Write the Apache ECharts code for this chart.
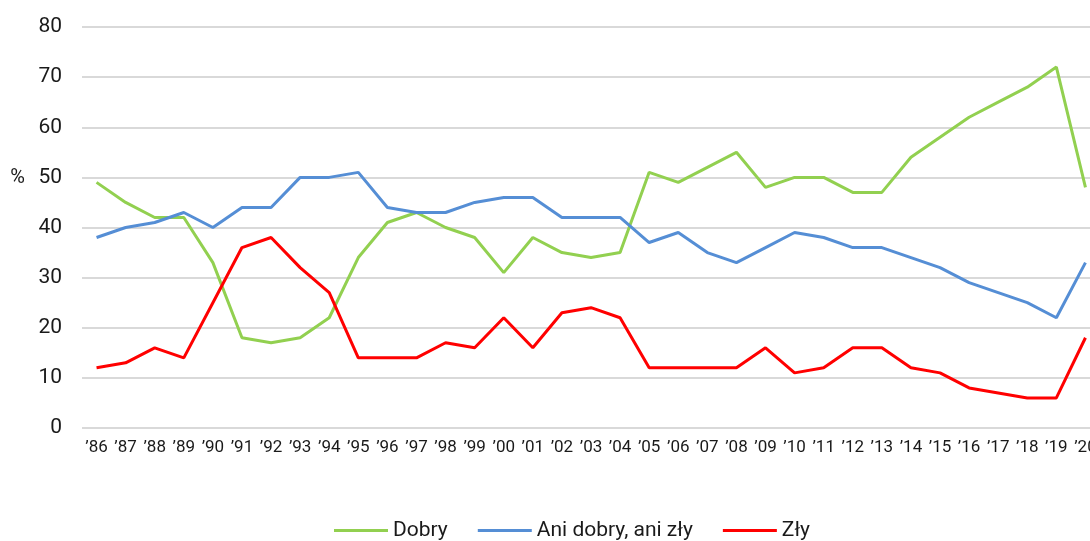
<!DOCTYPE html>
<html lang="pl" style="height: 100%">
<head>
  <meta charset="utf-8">
</head>
<body style="height: 100%; margin: 0">
  <div id="container" style="width:1090px;height:541px"></div>

  <script type="text/javascript" src="https://fastly.jsdelivr.net/npm/echarts@6.0.0/dist/echarts.min.js"></script>

  <script type="text/javascript">
    var years = ['86','87','88','89','90','91','92','93','94','95','96','97','98','99','00','01','02','03','04','05','06','07','08','09','10','11','12','13','14','15','16','17','18','19','20'];
    var dobry = [49,45,42,42,33,18,17,18,22,34,41,43,40,38,31,38,35,34,35,51,49,52,55,48,50,50,47,47,54,58,62,65,68,72,48];
    var aniDobry = [38,40,41,43,40,44,44,50,50,51,44,43,43,45,46,46,42,42,42,37,39,35,33,36,39,38,36,36,34,32,29,27,25,22,33];
    var zly = [12,13,16,14,25,36,38,32,27,14,14,14,17,16,22,16,23,24,22,12,12,12,12,16,11,12,16,16,12,11,8,7,6,6,18];
    var yTicks = [0, 10, 20, 30, 40, 50, 60, 70, 80];

    var dom = document.getElementById('container');
    var myChart = echarts.init(dom, null, { renderer: 'canvas' });

    var font = 'Roboto, "Noto Sans", sans-serif';
    var textColor = '#1a1a1a';

    function lineSeries(name, data, color) {
      return {
        name: name,
        type: 'line',
        data: data,
        symbol: 'none',
        smooth: false,
        lineStyle: { color: color, width: 3 },
        itemStyle: { color: color },
        animation: false
      };
    }

    var option = {
      textStyle: { fontFamily: font },
      grid: {
        left: 82,
        right: -10,
        top: 27,
        bottom: 113,
        outerBoundsMode: 'none'
      },
      legend: {
        bottom: 0,
        left: 334,
        padding: 0,
        icon: 'rect',
        itemWidth: 54,
        itemHeight: 3,
        itemGap: 30,
        textStyle: { fontSize: 21, color: textColor, fontFamily: font },
        data: ['Dobry', 'Ani dobry, ani zły', 'Zły']
      },
      xAxis: {
        type: 'category',
        data: years.map(function (y) { return '\u2019' + y; }),
        boundaryGap: true,
        axisLine: { show: false },
        axisTick: { show: false },
        axisLabel: { fontSize: 17, color: textColor, margin: 11, interval: 0, fontFamily: font }
      },
      yAxis: {
        type: 'value',
        min: yTicks[0],
        max: yTicks[yTicks.length - 1],
        interval: 10,
        // '%' sits level with the 50 line, so pad it with blank lines below
        name: '%\n\n\n\n ',
        nameLocation: 'middle',
        nameRotate: 0,
        nameGap: 57,
        nameTextStyle: { fontSize: 20, lineHeight: 25, color: textColor, fontFamily: font },
        axisLine: { show: false },
        axisTick: { show: false },
        axisLabel: { fontSize: 21, color: textColor, margin: 20, fontFamily: font },
        splitLine: { lineStyle: { color: '#d9d9d9', width: 2 } }
      },
      series: [
        lineSeries('Dobry', dobry, '#92d050'),
        lineSeries('Ani dobry, ani zły', aniDobry, '#558ed5'),
        lineSeries('Zły', zly, '#ff0000')
      ]
    };

    myChart.setOption(option);
    window.addEventListener('resize', myChart.resize);
  </script>
</body>
</html>
